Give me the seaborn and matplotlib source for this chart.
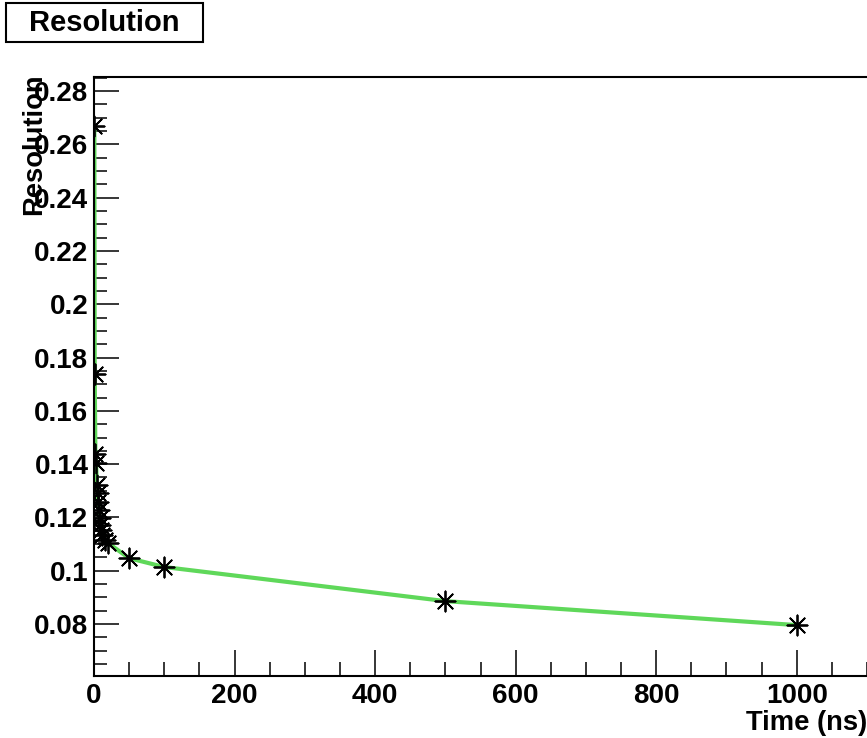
import matplotlib
matplotlib.use("Agg")
import matplotlib.pyplot as plt
import seaborn as sns
import pandas as pd
from matplotlib.ticker import MultipleLocator, FuncFormatter
from matplotlib.patches import Rectangle

# Data
time_ns = [0.5, 1, 2, 3, 4, 5, 6, 7, 8, 9, 10, 12, 15, 20, 50, 100, 500, 1000]
resolution = [0.267, 0.174, 0.1438, 0.1404, 0.132, 0.129, 0.1258, 0.1228, 0.1198,
              0.1172, 0.1153, 0.1134, 0.1115, 0.1104, 0.1047, 0.1014, 0.0886, 0.0796]
title_text = "Resolution"
x_label = "Time (ns)"
y_label = "Resolution"

df = pd.DataFrame({"t": time_ns, "res": resolution})

sns.set_style("ticks")
plt.rcParams["font.family"] = ["Liberation Sans", "DejaVu Sans"]
plt.rcParams["font.weight"] = "bold"
plt.rcParams["text.color"] = "black"
plt.rcParams["xtick.color"] = "black"
plt.rcParams["ytick.color"] = "black"
plt.rcParams["axes.labelcolor"] = "black"

fig = plt.figure(figsize=(8.67, 7.38), dpi=100)
ax = fig.add_axes([94 / 867, 1 - 676 / 738, 1 - 94 / 867, (676 - 77) / 738])

sns.lineplot(data=df, x="t", y="res", ax=ax, color="#5fd85a", linewidth=3.0,
             sort=True, estimator=None, zorder=2)
sns.scatterplot(data=df, x="t", y="res", ax=ax, marker=(8, 2, 0), s=210,
                color="black", linewidth=1.3, edgecolor="black", zorder=3)

ax.set_xlim(0, 1100)
ax.set_ylim(0.0605, 0.2853)
ax.set_xlabel("")
ax.set_ylabel("")

ax.xaxis.set_major_locator(MultipleLocator(200))
ax.xaxis.set_minor_locator(MultipleLocator(50))
ax.yaxis.set_major_locator(MultipleLocator(0.02))
ax.yaxis.set_minor_locator(MultipleLocator(0.005))
ax.yaxis.set_major_formatter(FuncFormatter(lambda v, p: f"{v:g}"))
ax.xaxis.set_major_formatter(FuncFormatter(lambda v, p: f"{v:g}"))

for s in ["left", "top", "bottom"]:
    ax.spines[s].set_linewidth(1.5)
    ax.spines[s].set_color("black")
ax.spines["right"].set_visible(False)

ax.tick_params(axis="y", which="major", direction="in", length=18, width=1.1,
               labelsize=20, pad=4, right=False)
ax.tick_params(axis="y", which="minor", direction="in", length=9, width=1.1, right=False)
ax.tick_params(axis="x", which="major", direction="in", length=19, width=1.1,
               labelsize=20, pad=5, top=False)
ax.tick_params(axis="x", which="minor", direction="in", length=10, width=1.1, top=False)
for lab in ax.get_xticklabels() + ax.get_yticklabels():
    lab.set_fontweight("bold")

# axis titles, ROOT style
fig.text(1.0, 1 - 710 / 738, x_label, ha="right", va="top", fontsize=19.7,
         fontweight="bold")
fig.text(34 / 867, 1 - 73 / 738, y_label, ha="center", va="top", rotation=90,
         fontsize=19.7, fontweight="bold")

# title box
fig.patches.append(Rectangle((6 / 867, 1 - 42 / 738), 197 / 867, 39 / 738,
                             transform=fig.transFigure, facecolor="white",
                             edgecolor="black", linewidth=1.5))
fig.text(104 / 867, 1 - 23 / 738, title_text, ha="center", va="center",
         fontsize=21, fontweight="bold")

fig.savefig("out.png", dpi=100)
